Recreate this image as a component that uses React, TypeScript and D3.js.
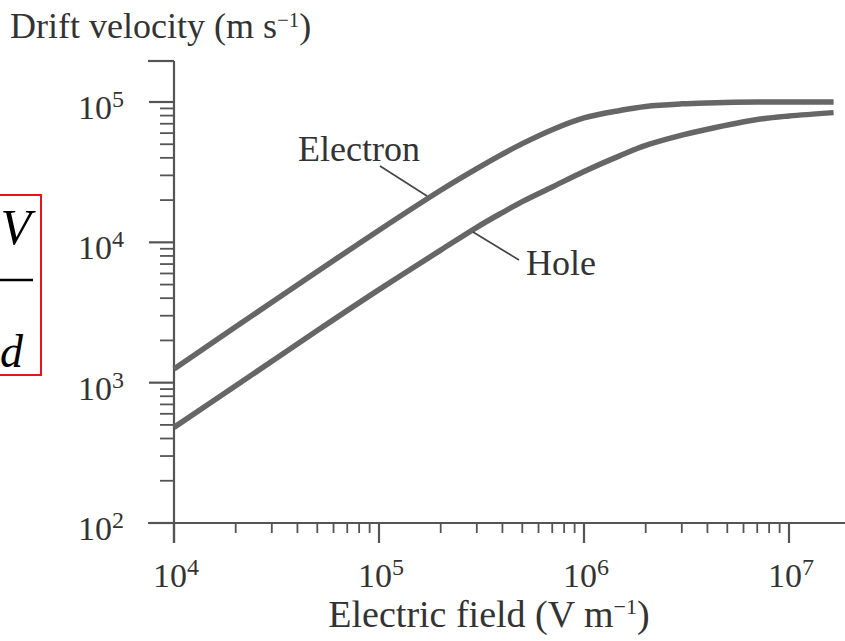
import React from "react";
import * as d3 from "d3";

const W = 845;
const H = 641;

// electric field samples (V/m) and drift velocities (m/s)
const fieldE = [1e4, 2e4, 5e4, 1e5, 2e5, 3e5, 4e5, 5e5, 7e5, 1e6, 1.5e6, 2e6, 3e6, 4e6, 7e6, 1e7, 1.65e7];
const electronV = [1250, 2500, 6200, 12200, 23500, 33500, 42500, 50500, 63500, 77000, 87000, 93000, 97000, 98500, 100000, 100000, 100000];
const holeV = [480, 950, 2350, 4600, 8800, 12800, 16300, 19500, 24800, 32000, 41500, 49000, 58000, 64000, 75000, 79500, 84000];

const xMajor = [1e4, 1e5, 1e6, 1e7];
const yMajor = [1e2, 1e3, 1e4, 1e5];
const xExp = ["4", "5", "6", "7"];
const yExp = ["2", "3", "4", "5"];
const minorMult = [2, 3, 4, 5, 6, 7, 8, 9];

const FONT = "'Liberation Serif', 'Times New Roman', serif";
const AXIS = "#555";
const CURVE = "#666";

const App = () => {
  const x = d3.scaleLog().domain([1e4, 1e7]).range([174, 789]);
  const y = d3.scaleLog().domain([1e2, 1e5]).range([523, 102]);

  const xMinor: number[] = [];
  [1e4, 1e5, 1e6].forEach((d) => minorMult.forEach((m) => xMinor.push(d * m)));
  const yMinor: number[] = [];
  [1e2, 1e3, 1e4].forEach((d) => minorMult.forEach((m) => yMinor.push(d * m)));

  const line = d3
    .line<number>()
    .x((_, i) => x(fieldE[i]))
    .y((d) => y(d))
    .curve(d3.curveCatmullRom.alpha(0.5));

  const x0 = x(1e4);
  const y0 = y(1e2);

  return (
    <svg
      width={W}
      height={H}
      style={{ position: "absolute", left: 0, top: 0, background: "#fff" }}
      fontFamily={FONT}
    >
      {/* cut-off formula box at the left edge */}
      <rect x={-10} y={195} width={51} height={180} fill="none" stroke="#e8141c" strokeWidth={2} />
      <text x={31} y={244} fontSize={50} fontStyle="italic" textAnchor="end" fill="#000">V</text>
      <line x1={0} x2={33} y1={280} y2={280} stroke="#000" strokeWidth={2.5} />
      <text x={0} y={367} fontSize={46} fontStyle="italic" fill="#000">d</text>

      {/* axes */}
      <g stroke={AXIS} strokeWidth={2.2} fill="none">
        <line x1={x0} x2={x0} y1={61} y2={y0 + 20} />
        <line x1={x0 - 26} x2={x0} y1={61} y2={61} />
        <line x1={x0 - 26} x2={W} y1={y0} y2={y0} />
        {yMajor.map((d) => (
          <line key={"ym" + d} x1={x0 - 25} x2={x0} y1={y(d)} y2={y(d)} />
        ))}
        {yMinor.map((d) => (
          <line key={"yn" + d} x1={x0 - 14} x2={x0} y1={y(d)} y2={y(d)} strokeWidth={1.8} />
        ))}
        {xMajor.map((d) => (
          <line key={"xm" + d} x1={x(d)} x2={x(d)} y1={y0} y2={y0 + 20} />
        ))}
        {xMinor.map((d) => (
          <line key={"xn" + d} x1={x(d)} x2={x(d)} y1={y0} y2={y0 + 10} strokeWidth={1.8} />
        ))}
      </g>

      {/* tick labels */}
      <g fontSize={34} fill="#333">
        {yMajor.map((d, i) => (
          <text key={"yl" + d} x={124} y={y(d) + 17} textAnchor="end">
            10<tspan fontSize={24} dy={-12}>{yExp[i]}</tspan>
          </text>
        ))}
        {xMajor.map((d, i) => (
          <text key={"xl" + d} x={x(d) + 2} y={587} textAnchor="middle">
            10<tspan fontSize={24} dy={-12}>{xExp[i]}</tspan>
          </text>
        ))}
      </g>

      {/* curves */}
      <path d={line(electronV) || ""} fill="none" stroke={CURVE} strokeWidth={5.5} />
      <path d={line(holeV) || ""} fill="none" stroke={CURVE} strokeWidth={5.5} />

      {/* curve labels with leader lines */}
      <g stroke="#444" strokeWidth={1.6}>
        <line x1={380} y1={166} x2={427} y2={196} />
        <line x1={473} y1={232} x2={519} y2={260} />
      </g>
      <g fontSize={36} fill="#333">
        <text x={298} y={161}>Electron</text>
        <text x={526} y={275}>Hole</text>
      </g>

      {/* axis titles */}
      <text x={10} y={38} fontSize={36} fill="#333">
        Drift velocity (m s<tspan fontSize={21} dy={-11}>−1</tspan>
        <tspan dy={11}>)</tspan>
      </text>
      <text x={489} y={627} fontSize={38} fill="#333" textAnchor="middle">
        Electric field (V m<tspan fontSize={22} dy={-13}>−1</tspan>
        <tspan dy={13}>)</tspan>
      </text>
    </svg>
  );
};

export default App;
